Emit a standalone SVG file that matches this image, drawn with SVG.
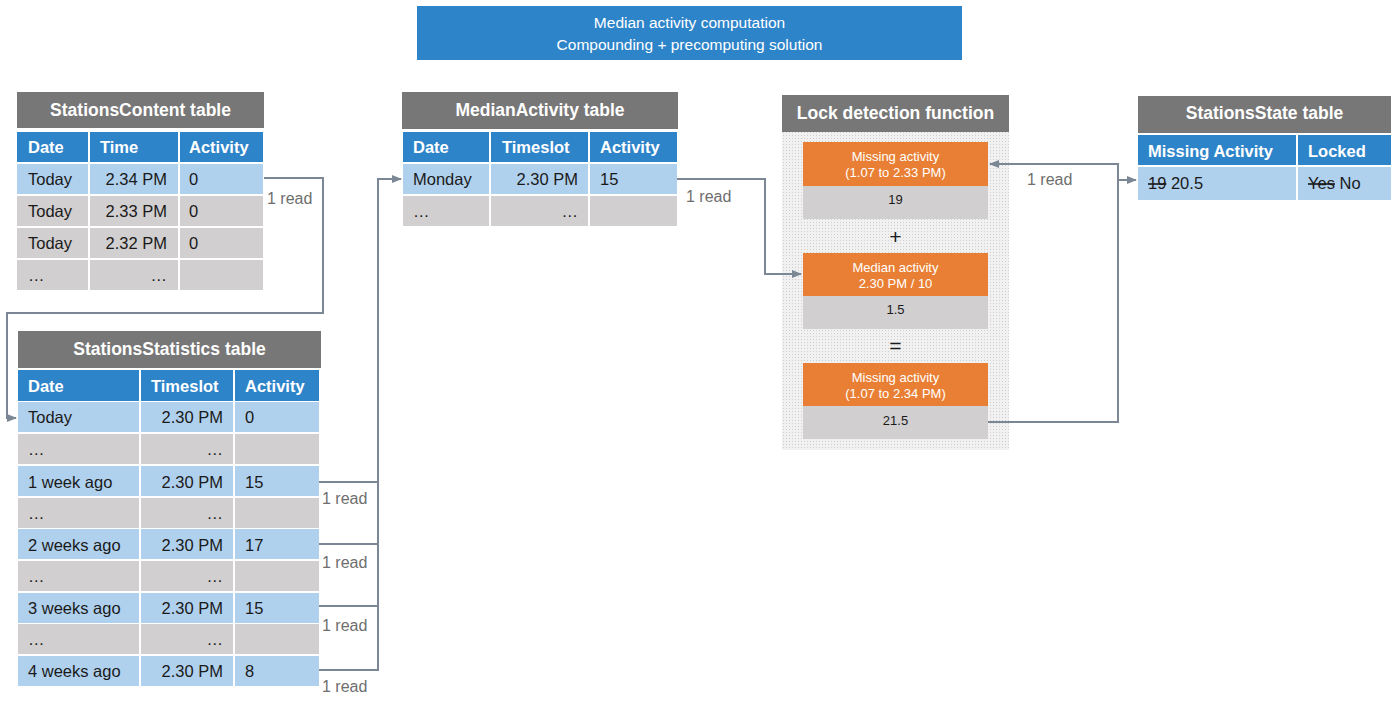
<svg xmlns="http://www.w3.org/2000/svg" width="1400" height="709" viewBox="0 0 1400 709">
<defs>
<marker id="arr" viewBox="0 0 10 10" refX="9" refY="5" markerWidth="5" markerHeight="5" orient="auto" markerUnits="strokeWidth">
<path d="M0,1 L10,5 L0,9 Z" fill="#7b8795"/>
</marker>
<pattern id="dots" width="3" height="3" patternUnits="userSpaceOnUse">
<rect width="3" height="3" fill="#f1f1f1"/>
<rect width="1" height="1" fill="#cfcfcf"/>
</pattern>
</defs>
<style>
text{font-family:"Liberation Sans",Arial,sans-serif;}
.ttl{fill:#777777;}
.ttxt{fill:#ffffff;font-size:17.5px;font-weight:bold;text-anchor:middle;}
.hd{fill:#2e84c9;}
.htxt{fill:#ffffff;font-size:16.5px;font-weight:bold;}
.lb{fill:#b0d1ee;}
.gr{fill:#d1cfd0;}
.ctxt{fill:#1a1a1a;font-size:16.5px;}
.r{text-anchor:end;}
.or{fill:#e97f35;}
.otxt{fill:#ffffff;font-size:13px;text-anchor:middle;}
.vtxt{fill:#1a1a1a;font-size:13px;text-anchor:middle;}
.op{fill:#1a1a1a;font-size:21px;text-anchor:middle;}
.conn{fill:none;stroke:#7b8795;stroke-width:2;}
.rd{fill:#6e6e6e;font-size:16px;}
</style>
<rect width="1400" height="709" fill="#ffffff"/>

<g id="title">
<rect x="417" y="6" width="545" height="54" fill="#2e84c9"/>
<text x="689.5" y="28" style="fill:#fff;font-size:15.5px;text-anchor:middle">Median activity computation</text>
<text x="689.5" y="50" style="fill:#fff;font-size:15.5px;text-anchor:middle">Compounding + precomputing solution</text>
</g>

<g id="stationsContent">
<rect class="ttl" x="17" y="92" width="247" height="36"/>
<text class="ttxt" x="140.5" y="116">StationsContent table</text>
<rect class="hd" x="17" y="132" width="71" height="30"/>
<rect class="hd" x="90" y="132" width="88" height="30"/>
<rect class="hd" x="180" y="132" width="83" height="30"/>
<text class="htxt" x="28" y="153">Date</text>
<text class="htxt" x="100" y="153">Time</text>
<text class="htxt" x="189" y="153">Activity</text>
<rect class="lb" x="17" y="164" width="71" height="30"/>
<rect class="lb" x="90" y="164" width="88" height="30"/>
<rect class="lb" x="180" y="164" width="83" height="30"/>
<rect class="gr" x="17" y="196" width="71" height="30"/>
<rect class="gr" x="90" y="196" width="88" height="30"/>
<rect class="gr" x="180" y="196" width="83" height="30"/>
<rect class="gr" x="17" y="228" width="71" height="30"/>
<rect class="gr" x="90" y="228" width="88" height="30"/>
<rect class="gr" x="180" y="228" width="83" height="30"/>
<rect class="gr" x="17" y="260" width="71" height="30"/>
<rect class="gr" x="90" y="260" width="88" height="30"/>
<rect class="gr" x="180" y="260" width="83" height="30"/>
<text class="ctxt" x="28" y="185">Today</text>
<text class="ctxt r" x="167" y="185">2.34 PM</text>
<text class="ctxt" x="189" y="185">0</text>
<text class="ctxt" x="28" y="217">Today</text>
<text class="ctxt r" x="167" y="217">2.33 PM</text>
<text class="ctxt" x="189" y="217">0</text>
<text class="ctxt" x="28" y="249">Today</text>
<text class="ctxt r" x="167" y="249">2.32 PM</text>
<text class="ctxt" x="189" y="249">0</text>
<text class="ctxt" x="28" y="281">…</text>
<text class="ctxt r" x="167" y="281">…</text>
</g>

<g id="stationsStatistics">
<rect class="ttl" x="18" y="331" width="303" height="37"/>
<text class="ttxt" x="169.5" y="355">StationsStatistics table</text>
<rect class="hd" x="18" y="370" width="121" height="31"/>
<rect class="hd" x="141" y="370" width="92" height="31"/>
<rect class="hd" x="235" y="370" width="84" height="31"/>
<text class="htxt" x="28" y="392">Date</text>
<text class="htxt" x="151" y="392">Timeslot</text>
<text class="htxt" x="245" y="392">Activity</text>
<rect class="lb" x="18" y="402" width="121" height="30"/><rect class="lb" x="141" y="402" width="92" height="30"/><rect class="lb" x="235" y="402" width="84" height="30"/>
<rect class="gr" x="18" y="434" width="121" height="30"/><rect class="gr" x="141" y="434" width="92" height="30"/><rect class="gr" x="235" y="434" width="84" height="30"/>
<rect class="lb" x="18" y="466" width="121" height="30"/><rect class="lb" x="141" y="466" width="92" height="30"/><rect class="lb" x="235" y="466" width="84" height="30"/>
<rect class="gr" x="18" y="498" width="121" height="30"/><rect class="gr" x="141" y="498" width="92" height="30"/><rect class="gr" x="235" y="498" width="84" height="30"/>
<rect class="lb" x="18" y="529" width="121" height="30"/><rect class="lb" x="141" y="529" width="92" height="30"/><rect class="lb" x="235" y="529" width="84" height="30"/>
<rect class="gr" x="18" y="561" width="121" height="30"/><rect class="gr" x="141" y="561" width="92" height="30"/><rect class="gr" x="235" y="561" width="84" height="30"/>
<rect class="lb" x="18" y="593" width="121" height="30"/><rect class="lb" x="141" y="593" width="92" height="30"/><rect class="lb" x="235" y="593" width="84" height="30"/>
<rect class="gr" x="18" y="624" width="121" height="30"/><rect class="gr" x="141" y="624" width="92" height="30"/><rect class="gr" x="235" y="624" width="84" height="30"/>
<rect class="lb" x="18" y="656" width="121" height="30"/><rect class="lb" x="141" y="656" width="92" height="30"/><rect class="lb" x="235" y="656" width="84" height="30"/>
<text class="ctxt" x="28" y="423">Today</text><text class="ctxt r" x="223" y="423">2.30 PM</text><text class="ctxt" x="245" y="423">0</text>
<text class="ctxt" x="28" y="455">…</text><text class="ctxt r" x="223" y="455">…</text>
<text class="ctxt" x="28" y="488">1 week ago</text><text class="ctxt r" x="223" y="488">2.30 PM</text><text class="ctxt" x="245" y="488">15</text>
<text class="ctxt" x="28" y="519">…</text><text class="ctxt r" x="223" y="519">…</text>
<text class="ctxt" x="28" y="551">2 weeks ago</text><text class="ctxt r" x="223" y="551">2.30 PM</text><text class="ctxt" x="245" y="551">17</text>
<text class="ctxt" x="28" y="582">…</text><text class="ctxt r" x="223" y="582">…</text>
<text class="ctxt" x="28" y="614">3 weeks ago</text><text class="ctxt r" x="223" y="614">2.30 PM</text><text class="ctxt" x="245" y="614">15</text>
<text class="ctxt" x="28" y="645">…</text><text class="ctxt r" x="223" y="645">…</text>
<text class="ctxt" x="28" y="677">4 weeks ago</text><text class="ctxt r" x="223" y="677">2.30 PM</text><text class="ctxt" x="245" y="677">8</text>
</g>

<g id="medianActivity">
<rect class="ttl" x="402" y="92" width="276" height="37"/>
<text class="ttxt" x="540" y="116">MedianActivity table</text>
<rect class="hd" x="403" y="132" width="86" height="30"/>
<rect class="hd" x="491" y="132" width="97" height="30"/>
<rect class="hd" x="590" y="132" width="87" height="30"/>
<text class="htxt" x="413" y="153">Date</text>
<text class="htxt" x="502" y="153">Timeslot</text>
<text class="htxt" x="600" y="153">Activity</text>
<rect class="lb" x="403" y="164" width="86" height="30"/><rect class="lb" x="491" y="164" width="97" height="30"/><rect class="lb" x="590" y="164" width="87" height="30"/>
<rect class="gr" x="403" y="196" width="86" height="30"/><rect class="gr" x="491" y="196" width="97" height="30"/><rect class="gr" x="590" y="196" width="87" height="30"/>
<text class="ctxt" x="413" y="185">Monday</text><text class="ctxt r" x="578" y="185">2.30 PM</text><text class="ctxt" x="600" y="185">15</text>
<text class="ctxt" x="413" y="217">…</text><text class="ctxt r" x="578" y="217">…</text>
</g>

<g id="lockDetection">
<rect x="782" y="132" width="227" height="318" fill="url(#dots)"/>
<rect class="ttl" x="782" y="95" width="227" height="37"/>
<text class="ttxt" x="895.5" y="119">Lock detection function</text>
<rect class="or" x="803" y="142" width="185" height="44"/>
<rect class="gr" x="803" y="186" width="185" height="33"/>
<text class="otxt" x="895.5" y="161">Missing activity</text>
<text class="otxt" x="895.5" y="177">(1.07 to 2.33 PM)</text>
<text class="vtxt" x="895.5" y="204">19</text>
<text class="op" x="895.5" y="244">+</text>
<rect class="or" x="803" y="253" width="185" height="43"/>
<rect class="gr" x="803" y="296" width="185" height="33"/>
<text class="otxt" x="895.5" y="272">Median activity</text>
<text class="otxt" x="895.5" y="288">2.30 PM / 10</text>
<text class="vtxt" x="895.5" y="314">1.5</text>
<text class="op" x="895.5" y="353">=</text>
<rect class="or" x="803" y="363" width="185" height="43"/>
<rect class="gr" x="803" y="406" width="185" height="33"/>
<text class="otxt" x="895.5" y="382">Missing activity</text>
<text class="otxt" x="895.5" y="398">(1.07 to 2.34 PM)</text>
<text class="vtxt" x="895.5" y="425">21.5</text>
</g>

<g id="stationsState">
<rect class="ttl" x="1138" y="96" width="253" height="37"/>
<text class="ttxt" x="1264.5" y="119">StationsState table</text>
<rect class="hd" x="1138" y="135" width="158" height="30"/>
<rect class="hd" x="1298" y="135" width="93" height="30"/>
<text class="htxt" x="1148" y="157">Missing Activity</text>
<text class="htxt" x="1308" y="157">Locked</text>
<rect class="lb" x="1138" y="167" width="158" height="33"/>
<rect class="lb" x="1298" y="167" width="93" height="33"/>
<text class="ctxt" x="1148" y="189"><tspan text-decoration="line-through">19</tspan> 20.5</text>
<text class="ctxt" x="1308" y="189"><tspan text-decoration="line-through">Yes</tspan> No</text>
</g>

<g id="connectors">
<polyline class="conn" points="264,178 323,178 323,313 7,313 7,418 16,418" marker-end="url(#arr)"/>
<polyline class="conn" points="319,482 378,482"/>
<polyline class="conn" points="319,544 378,544"/>
<polyline class="conn" points="319,606 378,606"/>
<polyline class="conn" points="319,670 378,670 378,179 401,179" marker-end="url(#arr)"/>
<polyline class="conn" points="677,179 765,179 765,274 801,274" marker-end="url(#arr)"/>
<polyline class="conn" points="988,422 1118,422 1118,164 990,164" marker-end="url(#arr)"/>
<polyline class="conn" points="1118,180 1136,180" marker-end="url(#arr)"/>
<text class="rd" x="267" y="204">1 read</text>
<text class="rd" x="322" y="504">1 read</text>
<text class="rd" x="322" y="568">1 read</text>
<text class="rd" x="322" y="631">1 read</text>
<text class="rd" x="322" y="692">1 read</text>
<text class="rd" x="686" y="202">1 read</text>
<text class="rd" x="1027" y="185">1 read</text>
</g>
</svg>
